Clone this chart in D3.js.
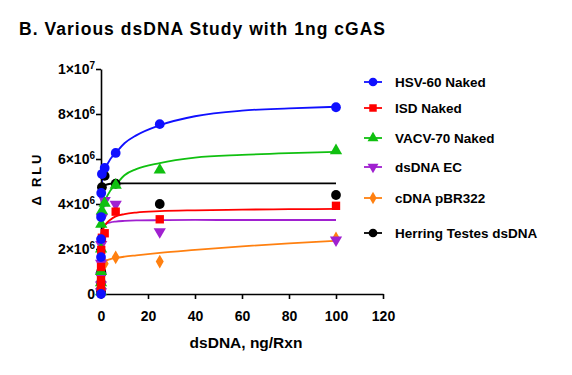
<!DOCTYPE html>
<html>
<head>
<script src="https://d3js.org/d3.v7.min.js"></script>
<style>
  body { margin: 0; background: #fff; }
  text { font-family: "Liberation Sans", Arial, sans-serif; }
</style>
</head>
<body>
<svg id="chart" width="572" height="375"></svg>
<script>
// doses (ng/Rxn), 4-fold dilutions
const doses = [100, 25, 6.25, 1.5625, 0.39, 0.098, 0.024, 0.0061, 0.0015, 0];
const seriesNames = ["HSV-60 Naked", "ISD Naked", "VACV-70 Naked", "dsDNA EC", "cDNA pBR322", "Herring Testes dsDNA"];
// measured RLU, x1e6
const hsv60 = [8.3, 7.55, 6.27, 5.6, 5.33, 4.49, 3.42, 2.44, 1.64, 0];
const isd = [3.92, 3.32, 3.66, 2.7, 2.5, 1.96, 1.2, 0.62, 0.31, 0.1];
const vacv70 = [6.37, 5.51, 4.84, 4.04, 3.7, 3.1, 2.0, 1.0, 0.5, 0.1];
const dsdnaEC = [2.4, 2.77, 3.99, 4.15, 3.4, 2.2, 1.37, 0.8, 0.4, 0.1];
const pBR322 = [2.47, 1.44, 1.63, 1.35, 1.2, 0.76, 0.5, 0.3, 0.2, 0.1];
const herring = [4.4, 4.0, 4.9, 5.25, 4.75, 1.0, 0.9, 0.5, 0.2, 0.1];
// fitted curves (x1e6)
const fitX = [0, 0.5, 1, 2, 4, 6.25, 10, 15, 25, 40, 60, 80, 100];
const hsv60Fit = [4.3, 5.0, 5.3, 5.6, 6.0, 6.27, 6.7, 7.05, 7.5, 7.9, 8.15, 8.25, 8.32];
const isdFit = [2.5, 2.75, 2.9, 3.1, 3.3, 3.45, 3.55, 3.62, 3.68, 3.72, 3.75, 3.77, 3.78];
const vacv70Fit = [3.3, 3.6, 3.85, 4.2, 4.6, 4.85, 5.28, 5.55, 5.82, 6.06, 6.18, 6.26, 6.32];
const dsdnaECFit = [2.6, 2.85, 3.0, 3.1, 3.18, 3.22, 3.25, 3.27, 3.28, 3.29, 3.29, 3.29, 3.29];
const pBR322Fit = [1.2, 1.3, 1.38, 1.47, 1.55, 1.6, 1.66, 1.72, 1.83, 1.96, 2.12, 2.25, 2.36];
const herringFit = [4.4, 4.65, 4.75, 4.85, 4.9, 4.91, 4.92, 4.92, 4.92, 4.92, 4.92, 4.92, 4.92];
const xTicks = [0, 20, 40, 60, 80, 100, 120];
const yTicks = [0, 2, 4, 6, 8, 10];

const colors = ["#1010ff", "#ff0000", "#10c010", "#a020d0", "#ff8010", "#000000"];
const shapes = [d3.symbolCircle, d3.symbolSquare, d3.symbolTriangle, "down", d3.symbolDiamond, d3.symbolCircle];
const series = [
  { name: seriesNames[0], y: hsv60, fit: hsv60Fit },
  { name: seriesNames[1], y: isd, fit: isdFit },
  { name: seriesNames[2], y: vacv70, fit: vacv70Fit },
  { name: seriesNames[3], y: dsdnaEC, fit: dsdnaECFit },
  { name: seriesNames[4], y: pBR322, fit: pBR322Fit },
  { name: seriesNames[5], y: herring, fit: herringFit }
];

const svg = d3.select("#chart");
const x = d3.scaleLinear().domain([0, 120]).range([101, 383]);
const y = d3.scaleLinear().domain([0, 10]).range([294, 69]);

svg.append("rect").attr("width", 572).attr("height", 375).attr("fill", "#fff");

svg.append("text").attr("x", 19).attr("y", 35)
   .attr("font-size", 17.5).attr("font-weight", "bold")
   .attr("textLength", 366).attr("lengthAdjust", "spacing")
   .text("B. Various dsDNA Study with 1ng cGAS");

// marker path
function marker(i, size) {
  if (shapes[i] === "down") {
    return d3.symbol().type(d3.symbolTriangle).size(size)();
  }
  return d3.symbol().type(shapes[i]).size(size)();
}
function markerRot(i) { return shapes[i] === "down" ? " rotate(180)" : ""; }
const sizes = [75, 70, 65, 65, 55, 75];

// fit lines
const line = d3.line().x(d => x(d[0])).y(d => y(d[1])).curve(d3.curveMonotoneX);
const order = [5, 4, 3, 2, 1, 0];
order.forEach(i => {
  svg.append("path")
     .attr("d", line(fitX.map((v, k) => [v, series[i].fit[k]])))
     .attr("fill", "none").attr("stroke", colors[i]).attr("stroke-width", 1.8);
});

// axes
const xAxis = svg.append("g").attr("transform", "translate(0,294)")
  .call(d3.axisBottom(x).tickValues(xTicks).tickSize(5).tickSizeOuter(0));
const yAxis = svg.append("g").attr("transform", "translate(101,0)")
  .call(d3.axisLeft(y).tickValues(yTicks).tickSize(5).tickSizeOuter(0).tickFormat(""));
[xAxis, yAxis].forEach(a => {
  a.select(".domain").attr("stroke", "#000").attr("stroke-width", 1.6);
  a.selectAll(".tick line").attr("stroke", "#000").attr("stroke-width", 1.6);
});
xAxis.selectAll(".tick text").attr("font-size", 14).attr("font-weight", "bold")
  .attr("fill", "#000").attr("dy", "0.71em").attr("y", 17)
  .attr("font-family", "Liberation Sans, Arial, sans-serif");

yAxis.selectAll(".tick").each(function(d) {
  const t = d3.select(this).append("text").attr("x", -6).attr("dy", "0.35em")
    .attr("text-anchor", "end").attr("font-size", 14).attr("font-weight", "bold").attr("fill", "#000")
    .attr("font-family", "Liberation Sans, Arial, sans-serif");
  if (d === 0) { t.text("0"); return; }
  const mant = d === 10 ? 1 : d;
  const exp = d === 10 ? 7 : 6;
  t.append("tspan").text(mant + "×10");
  t.append("tspan").attr("font-size", 10).attr("dy", "-0.5em").text(exp);
});

svg.append("text").attr("x", 246).attr("y", 348).attr("text-anchor", "middle")
   .attr("font-size", 15.5).attr("font-weight", "bold").text("dsDNA, ng/Rxn");
svg.append("text").attr("transform", "translate(41,180) rotate(-90)").attr("text-anchor", "middle")
   .attr("font-size", 13).attr("font-weight", "bold")
   .attr("textLength", 51).attr("lengthAdjust", "spacing").text("Δ RLU");

// points
order.forEach(i => {
  svg.append("g").selectAll("path").data(doses.map((dv, k) => [dv, series[i].y[k]]))
    .join("path")
    .attr("d", marker(i, sizes[i]))
    .attr("transform", d => `translate(${x(d[0])},${y(d[1])})` + markerRot(i))
    .attr("fill", colors[i]);
});

// legend
const legY = [82, 108, 138, 167, 198, 233];
series.forEach((s, i) => {
  const g = svg.append("g").attr("transform", `translate(373,${legY[i]})`);
  g.append("line").attr("x1", -9).attr("x2", 9).attr("stroke", colors[i]).attr("stroke-width", 1.8);
  g.append("path").attr("d", marker(i, sizes[i] * 0.8))
    .attr("transform", markerRot(i).trim()).attr("fill", colors[i]);
  g.append("text").attr("x", 22).attr("dy", "0.35em").attr("font-size", 13.5)
    .attr("font-weight", "bold").text(s.name);
});
</script>
</body>
</html>
